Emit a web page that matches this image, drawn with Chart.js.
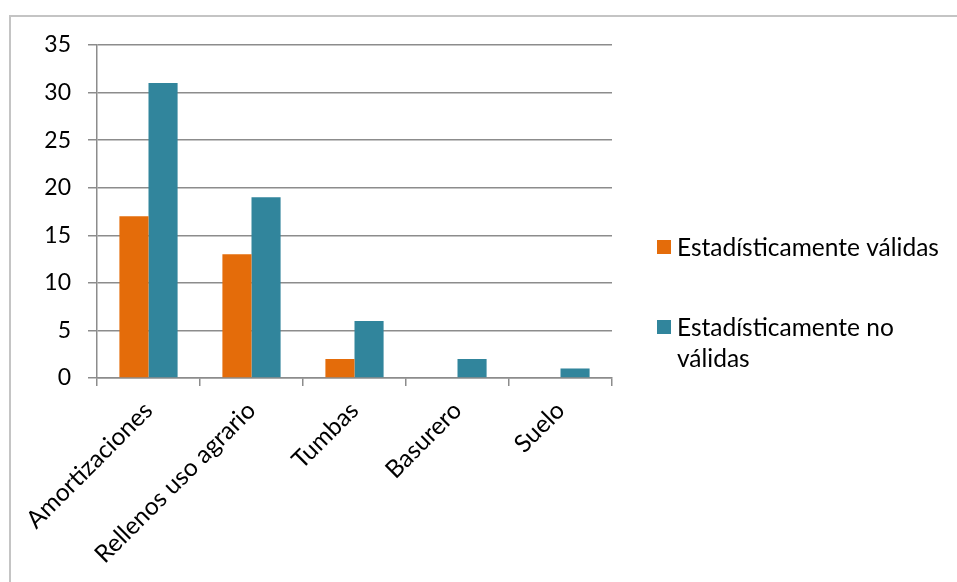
<!DOCTYPE html>
<html>
<head>
<meta charset="utf-8">
<script src="https://cdn.jsdelivr.net/npm/chart.js@4.4.1/dist/chart.umd.min.js"></script>
<style>
  body { margin: 0; background: #fff; }
  #wrap { position: relative; width: 957px; height: 582px; overflow: hidden; }
  #frame { position: absolute; left: 9px; top: 15px; width: 1000px; height: 600px;
           border-top: 2px solid #c4c4c4; border-left: 2px solid #c4c4c4; }
  canvas { position: absolute; left: 0; top: 0; }
</style>
</head>
<body>
<div id="wrap">
  <div id="frame"></div>
  <canvas id="chart" width="957" height="582"></canvas>
</div>
<script>
let categories = ["Amortizaciones", "Rellenos uso agrario", "Tumbas", "Basurero", "Suelo"];
let seriesNames = ["Estadísticamente válidas", "Estadísticamente no válidas"];
let validas = [17, 13, 2, 0, 0];
let noValidas = [31, 19, 6, 2, 1];
let yTicks = [0, 5, 10, 15, 20, 25, 30, 35];

let fontFamily = "Lato, 'Open Sans', sans-serif";
let fontSize = 24.5;
let gridColor = "#8c8c8c";

// legend on the right, drawn by hand so the long label can wrap
let sideLegend = {
    id: "sideLegend",
    afterDraw(chart) {
        let ctx = chart.ctx;
        let x = 657;
        let tops = [240, 320];
        ctx.save();
        ctx.font = fontSize + "px " + fontFamily;
        ctx.textBaseline = "middle";
        chart.data.datasets.forEach((ds, i) => {
            ctx.fillStyle = ds.backgroundColor;
            ctx.fillRect(x, tops[i], 14, 14);
            let words = ds.label.split(" ");
            let lines = [];
            let line = "";
            words.forEach(w => {
                let test = line ? line + " " + w : w;
                if (ctx.measureText(test).width > 278 && line) {
                    lines.push(line);
                    line = w;
                } else {
                    line = test;
                }
            });
            lines.push(line);
            ctx.fillStyle = "#000";
            lines.forEach((l, j) => {
                ctx.fillText(l, x + 20, tops[i] + 8 + j * 31);
            });
        });
        ctx.restore();
    }
};

let chart = new Chart(document.getElementById("chart"), {
    type: 'bar',
    data: {
        labels: categories,
        datasets: [{
            label: seriesNames[0],
            data: validas,
            backgroundColor: "#E46C0A",
            barPercentage: 1,
            categoryPercentage: 0.565
        }, {
            label: seriesNames[1],
            data: noValidas,
            backgroundColor: "#31859C",
            barPercentage: 1,
            categoryPercentage: 0.565
        }]
    },
    plugins: [sideLegend],
    options: {
        responsive: false,
        animation: false,
        layout: { padding: { top: 45, right: 345, left: 0, bottom: 0 } },
        plugins: {
            legend: { display: false },
            tooltip: { enabled: false }
        },
        scales: {
            x: {
                offset: true,
                grid: {
                    offset: true,
                    drawOnChartArea: false,
                    drawTicks: true,
                    tickLength: 8,
                    color: gridColor,
                    lineWidth: 1.5
                },
                border: { color: gridColor, width: 1.5 },
                ticks: {
                    minRotation: 45,
                    maxRotation: 45,
                    color: "#000",
                    padding: 10,
                    font: { family: fontFamily, size: fontSize }
                },
                afterFit(scale) { scale.height = 204; }
            },
            y: {
                min: 0,
                max: 35,
                afterBuildTicks(scale) {
                    scale.ticks = yTicks.map(v => ({ value: v }));
                },
                grid: {
                    color: gridColor,
                    lineWidth: 1.5,
                    tickLength: 9
                },
                border: { color: gridColor, width: 1.5 },
                ticks: {
                    color: "#000",
                    padding: 17,
                    font: { family: fontFamily, size: 23 }
                },
                afterFit(scale) { scale.width = 97; }
            }
        }
    }
});
</script>
</body>
</html>
